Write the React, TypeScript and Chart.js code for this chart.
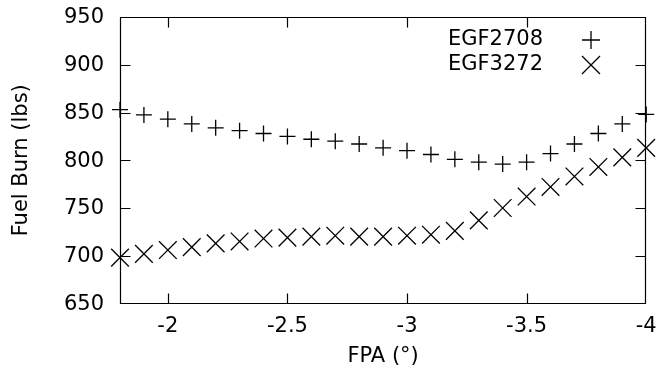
import React, { useEffect, useRef } from "react";
import { Chart, registerables } from "chart.js";

Chart.register(...registerables);

const fpa = [-1.8, -1.9, -2.0, -2.1, -2.2, -2.3, -2.4, -2.5, -2.6, -2.7, -2.8, -2.9, -3.0, -3.1, -3.2, -3.3, -3.4, -3.5, -3.6, -3.7, -3.8, -3.9, -4.0];
const egf2708 = [853, 847.5, 843, 838, 834, 831, 828, 825, 822, 820, 817, 813, 810, 806, 801, 798, 796, 798, 807, 817, 828, 838, 848];
const egf3272 = [698, 702, 706, 709, 713, 715, 718, 719, 720, 721, 720, 720, 721, 722, 726, 737, 750, 762, 772, 783, 793, 803, 813];
const seriesNames = ["EGF2708", "EGF3272"];
const xTicks = [-2, -2.5, -3, -3.5, -4];
const yTicks = [650, 700, 750, 800, 850, 900, 950];

const FONT = "'DejaVu Sans', sans-serif";
const FS = 21;

const framePlugin = {
  id: "frame",
  afterDatasetsDraw(chart: any) {
    const { ctx, chartArea: a, scales } = chart;
    const L = Math.round(a.left) + 0.5;
    const R = Math.round(a.right) - 0.5;
    const T = Math.round(a.top) + 0.5;
    const B = Math.round(a.bottom) - 0.5;
    const tl = 10;
    ctx.save();
    ctx.strokeStyle = "#000";
    ctx.lineWidth = 1.2;
    ctx.beginPath();
    ctx.rect(L, T, R - L, B - T);
    for (const v of xTicks) {
      const x = Math.round(scales.x.getPixelForValue(v)) + 0.5;
      if (x < L + 2 || x > R - 2) continue;
      ctx.moveTo(x, B);
      ctx.lineTo(x, B - tl);
      ctx.moveTo(x, T);
      ctx.lineTo(x, T + tl);
    }
    for (const v of yTicks) {
      const y = Math.round(scales.y.getPixelForValue(v)) + 0.5;
      if (y < T + 2 || y > B - 2) continue;
      ctx.moveTo(L, y);
      ctx.lineTo(L + tl, y);
      ctx.moveTo(R, y);
      ctx.lineTo(R - tl, y);
    }
    ctx.stroke();

    // tick labels
    ctx.fillStyle = "#000";
    ctx.font = `${FS}px ${FONT}`;
    ctx.textBaseline = "middle";
    ctx.textAlign = "right";
    for (const v of yTicks) {
      ctx.fillText(String(v), a.left - 16, scales.y.getPixelForValue(v) + 1);
    }
    ctx.textAlign = "center";
    for (const v of xTicks) {
      ctx.fillText(String(v), scales.x.getPixelForValue(v), a.bottom + 23);
    }

    // legend
    ctx.textAlign = "right";
    const lx = 543;
    const mx = 591;
    const ys = [40, 65];
    ctx.fillText(seriesNames[0], lx, ys[0]);
    ctx.fillText(seriesNames[1], lx, ys[1]);
    ctx.lineWidth = 1.3;
    ctx.beginPath();
    ctx.moveTo(mx - 9, ys[0]);
    ctx.lineTo(mx + 9, ys[0]);
    ctx.moveTo(mx, ys[0] - 9);
    ctx.lineTo(mx, ys[0] + 9);
    ctx.moveTo(mx - 9, ys[1] - 9);
    ctx.lineTo(mx + 9, ys[1] + 9);
    ctx.moveTo(mx + 9, ys[1] - 9);
    ctx.lineTo(mx - 9, ys[1] + 9);
    ctx.stroke();
    ctx.restore();
  },
};

export default function App() {
  const ref = useRef<HTMLCanvasElement>(null);
  useEffect(() => {
    if (!ref.current) return;
    const chart = new Chart(ref.current, {
      type: "scatter",
      data: {
        datasets: [
          {
            label: seriesNames[0],
            data: fpa.map((x, i) => ({ x, y: egf2708[i] })),
            pointStyle: "cross",
            pointRadius: 8,
            pointBorderWidth: 1.3,
            borderColor: "#000",
            backgroundColor: "#000",
            pointHoverRadius: 8,
            clip: false as any,
          },
          {
            label: seriesNames[1],
            data: fpa.map((x, i) => ({ x, y: egf3272[i] })),
            pointStyle: "crossRot",
            pointRadius: 12.5,
            pointBorderWidth: 1.3,
            borderColor: "#000",
            backgroundColor: "#000",
            pointHoverRadius: 12.5,
            clip: false as any,
          },
        ],
      },
      options: {
        responsive: false,
        animation: false,
        events: [],
        layout: { padding: { top: 17, right: 4, left: 0, bottom: 0 } },
        plugins: { legend: { display: false }, tooltip: { enabled: false } },
        scales: {
          x: {
            type: "linear",
            min: -4,
            max: -1.8,
            reverse: true,
            grid: { display: false, drawTicks: false },
            border: { display: false },
            afterBuildTicks: (s: any) => {
              s.ticks = xTicks.map((v) => ({ value: v }));
            },
            afterFit: (s: any) => {
              s.height = 76.5;
            },
            ticks: { display: false },
            title: {
              display: true,
              text: "FPA (°)",
              color: "#000",
              font: { family: FONT, size: FS },
              padding: { top: 0, bottom: 11 },
            },
          },
          y: {
            type: "linear",
            min: 650,
            max: 950,
            grid: { display: false, drawTicks: false },
            border: { display: false },
            afterBuildTicks: (s: any) => {
              s.ticks = yTicks.map((v) => ({ value: v }));
            },
            afterFit: (s: any) => {
              s.width = 120;
            },
            ticks: { display: false },
            title: {
              display: true,
              text: "Fuel Burn (lbs)",
              color: "#000",
              font: { family: FONT, size: FS },
              padding: { top: 9, bottom: 0 },
            },
          },
        },
      },
      plugins: [framePlugin],
    });
    return () => chart.destroy();
  }, []);
  return (
    <div style={{ position: "fixed", left: 0, top: 0, width: 660, height: 380, background: "#fff" }}>
      <canvas ref={ref} width={660} height={380} style={{ display: "block" }} />
    </div>
  );
}
